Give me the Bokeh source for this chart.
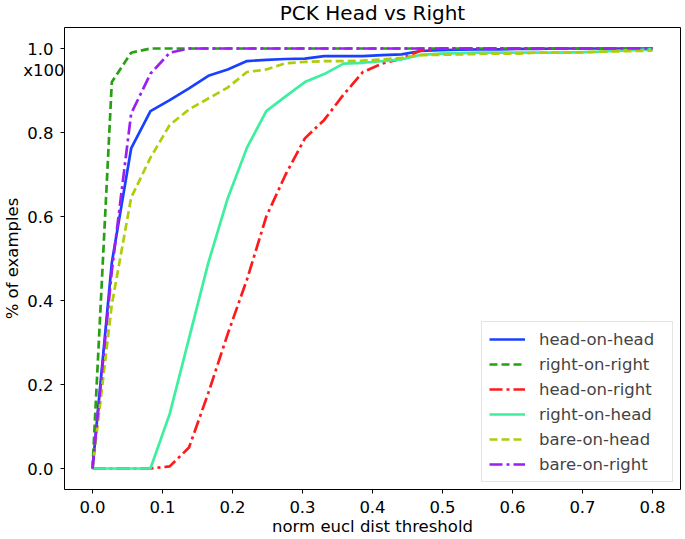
from bokeh.plotting import figure
from bokeh.models import Legend, LegendItem, FixedTicker, Range1d, LinearAxis
from bokeh.embed import file_html
from bokeh.resources import INLINE

# ---- data ----
thresholds = [0.0, 0.0276, 0.0552, 0.0828, 0.1103, 0.1379, 0.1655, 0.1931, 0.2207, 0.2483,
              0.2759, 0.3034, 0.3310, 0.3586, 0.3862, 0.4138, 0.4414, 0.4690, 0.4966, 0.5241,
              0.5517, 0.5793, 0.6069, 0.6345, 0.6621, 0.6897, 0.7172, 0.7448, 0.7724, 0.8]

head_on_head = [0.0, 0.49, 0.762, 0.851, 0.877, 0.905, 0.935, 0.950, 0.970, 0.973,
                0.975, 0.976, 0.982, 0.982, 0.982, 0.984, 0.986, 0.994, 0.996, 0.997,
                0.998, 0.998, 0.999, 0.999, 1.0, 1.0, 1.0, 1.0, 1.0, 1.0]
right_on_right = [0.0, 0.92, 0.99, 1.0, 1.0, 1.0, 1.0, 1.0, 1.0, 1.0,
                  1.0, 1.0, 1.0, 1.0, 1.0, 1.0, 1.0, 1.0, 1.0, 1.0,
                  1.0, 1.0, 1.0, 1.0, 1.0, 1.0, 1.0, 1.0, 1.0, 1.0]
head_on_right = [0.0, 0.0, 0.0, 0.0, 0.005, 0.05, 0.18, 0.32, 0.45, 0.60,
                 0.70, 0.786, 0.83, 0.89, 0.944, 0.964, 0.976, 0.995, 1.0, 1.0,
                 1.0, 1.0, 1.0, 1.0, 1.0, 1.0, 1.0, 1.0, 1.0, 1.0]
right_on_head = [0.0, 0.0, 0.0, 0.0, 0.13, 0.31, 0.49, 0.643, 0.764, 0.851,
                 0.886, 0.920, 0.939, 0.964, 0.966, 0.970, 0.974, 0.985, 0.988, 0.989,
                 0.99, 0.99, 0.99, 0.99, 0.99, 0.991, 0.992, 0.994, 0.996, 0.998]
bare_on_head = [0.0, 0.39, 0.645, 0.74, 0.818, 0.855, 0.881, 0.907, 0.944, 0.950,
                0.965, 0.968, 0.970, 0.970, 0.971, 0.974, 0.978, 0.984, 0.985, 0.986,
                0.987, 0.988, 0.988, 0.99, 0.99, 0.99, 0.992, 0.993, 0.994, 0.995]
bare_on_right = [0.0, 0.47, 0.845, 0.94, 0.99, 1.0, 1.0, 1.0, 1.0, 1.0,
                 1.0, 1.0, 1.0, 1.0, 1.0, 1.0, 1.0, 1.0, 1.0, 1.0,
                 1.0, 1.0, 1.0, 1.0, 1.0, 1.0, 1.0, 1.0, 1.0, 1.0]

series_names = ["head-on-head", "right-on-right", "head-on-right",
                "right-on-head", "bare-on-head", "bare-on-right"]
series_values = [head_on_head, right_on_right, head_on_right,
                 right_on_head, bare_on_head, bare_on_right]
series_colors = ["#1a40ff", "#28a014", "#ff1a1a", "#3def9f", "#b0cc0a", "#9a1ff0"]
series_dashes = ["solid", "8 4", "13 4 3 4", "solid", "8 4", "13 4 3 4"]

x_ticks = [0.0, 0.1, 0.2, 0.3, 0.4, 0.5, 0.6, 0.7, 0.8]
x_tick_labels = ["0.0", "0.1", "0.2", "0.3", "0.4", "0.5", "0.6", "0.7", "0.8"]
y_ticks = [0.0, 0.2, 0.4, 0.6, 0.8, 1.0]
y_tick_labels = ["0.0", "0.2", "0.4", "0.6", "0.8", "1.0"]
scale_note_pos = 0.948
scale_note_text = "x100"

title_text = "PCK Head vs Right"
x_label_text = "norm eucl dist threshold"
y_label_text = "% of examples"

FONT = "DejaVu Sans"
FS = "16.5px"

p = figure(width=685, height=539, output_backend="svg", toolbar_location=None,
           x_range=Range1d(-0.04, 0.84), y_range=Range1d(-0.05, 1.05),
           min_border_left=64, min_border_right=5, min_border_top=27, min_border_bottom=50)
p.xgrid.visible = False
p.ygrid.visible = False
p.outline_line_color = "black"
p.outline_line_width = 1
p.outline_line_alpha = 1.0
p.background_fill_color = "white"
p.border_fill_color = "white"

# title
p.title.text = title_text
p.title.align = "center"
p.title.vertical_align = "top"
p.title.text_font = FONT
p.title.text_font_size = "20px"
p.title.text_font_style = "normal"
p.title.text_color = "black"
p.title.standoff = 1

# x axis
xa = p.xaxis[0]
xa.axis_line_color = None
xa.major_tick_out = 4
xa.major_tick_in = 0
xa.major_tick_line_color = "black"
xa.minor_tick_line_color = None
xa.major_label_text_font = FONT
xa.major_label_text_font_size = FS
xa.major_label_text_color = "black"
xa.major_label_standoff = 7
xa.ticker = FixedTicker(ticks=x_ticks)
xa.major_label_overrides = {t: s for t, s in zip(x_ticks, x_tick_labels)}
xa.axis_label = x_label_text
xa.axis_label_text_font = FONT
xa.axis_label_text_font_size = FS
xa.axis_label_text_font_style = "normal"
xa.axis_label_text_color = "black"
xa.axis_label_standoff = 1


def bare_axis(ax):
    ax.axis_line_color = None
    ax.minor_tick_line_color = None
    ax.major_label_text_font = FONT
    ax.major_label_text_font_size = FS
    ax.major_label_text_color = "black"


# A: tick marks only, next to the frame
ya = p.yaxis[0]
bare_axis(ya)
ya.major_tick_out = 4
ya.major_tick_in = 0
ya.major_tick_line_color = "black"
ya.ticker = FixedTicker(ticks=y_ticks)
ya.major_label_overrides = {t: "" for t in y_ticks}
ya.major_label_text_font_size = "0px"
ya.major_label_standoff = 0

# B: the "x100" note, centred under the 1.0 label
yb = LinearAxis(ticker=FixedTicker(ticks=[scale_note_pos]))
bare_axis(yb)
yb.major_label_overrides = {scale_note_pos: scale_note_text}
yb.major_tick_out = 0
yb.major_tick_in = 0
yb.major_tick_line_color = None
yb.major_label_standoff = -4
p.add_layout(yb, "left")

# C: tick labels and axis title
yc = LinearAxis(ticker=FixedTicker(ticks=y_ticks))
bare_axis(yc)
yc.major_label_overrides = {t: s for t, s in zip(y_ticks, y_tick_labels)}
yc.major_tick_out = 0
yc.major_tick_in = 0
yc.major_tick_line_color = None
yc.major_label_standoff = -33
yc.axis_label = y_label_text
yc.axis_label_text_font = FONT
yc.axis_label_text_font_size = FS
yc.axis_label_text_font_style = "normal"
yc.axis_label_text_color = "black"
yc.axis_label_standoff = 2
p.add_layout(yc, "left")

items = []
for name, vals, col, dash in zip(series_names, series_values, series_colors, series_dashes):
    r = p.line(thresholds, vals, line_color=col, line_width=2.7, line_dash=dash)
    items.append(LegendItem(label=name, renderers=[r]))

legend = Legend(items=items, location="bottom_right")
legend.label_text_font = FONT
legend.label_text_font_size = FS
legend.glyph_width = 36
legend.glyph_height = 20
legend.label_height = 20
legend.label_standoff = 14
legend.spacing = 5
legend.padding = 7
legend.margin = 7
legend.label_width = 126
legend.border_line_color = "#cccccc"
legend.border_line_width = 1
legend.background_fill_alpha = 0.8
p.add_layout(legend)

open("out.html", "w").write(file_html(p, INLINE))
